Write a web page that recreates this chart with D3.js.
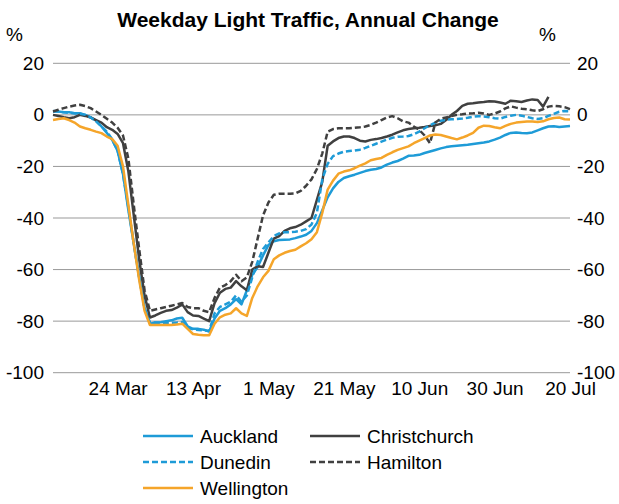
<!DOCTYPE html>
<html>
<head>
<meta charset="utf-8">
<script src="https://cdn.jsdelivr.net/npm/d3@7"></script>
<style>
  body { margin: 0; background: #fff; }
  text { font-family: Arial, "Liberation Sans", sans-serif; fill: #000; }
</style>
</head>
<body>
<div id="chart"></div>
<script>
// Weekdays, 6 Mar to 20 Jul 2020
var dates = d3.timeDay.range(new Date(2020, 2, 6), new Date(2020, 6, 21))
  .filter(function(d) { return d.getDay() != 0 && d.getDay() != 6; });

var tickDates = [new Date(2020, 2, 24), new Date(2020, 3, 13), new Date(2020, 4, 1),
  new Date(2020, 4, 21), new Date(2020, 5, 10), new Date(2020, 5, 30), new Date(2020, 6, 20)];
var yTicks = [20, 0, -20, -40, -60, -80, -100];

// % change on a year earlier, one value per weekday
var auckland = [1.3, 1.3, 1, 1, 0.6, 0.6, 0, -1, -2.3, -4.5, -7, -9.7, -14, -23, -37, -50, -63, -75, -81,
  -80.5, -80.4, -80, -79.7, -79, -78.7, -82, -83, -83, -83.3, -84,
  -79, -76, -75, -73.5, -71.5, -73.5, -68, -62, -59, -54.5, -50.5, -49, -48.5, -48.4, -48.3, -47.8, -47.2, -46.5, -45, -42,
  -37, -32, -28.5, -26, -24.5, -23.8, -23.2, -22.5, -21.8, -21.3, -21, -20.4, -19.3, -18.5, -17.9, -17, -15.9,
  -15.8, -15.5, -14.8, -14.2, -13.6, -13, -12.5, -12.2, -12, -11.8, -11.6, -11.3, -11, -10.7, -10.3, -9.6, -8.8, -7.8,
  -7, -6.8, -7, -7.1, -6.8, -6, -5.2, -4.5, -4.4, -4.7, -4.5, -4.3];

var christchurch = [0, -0.4, -0.9, -1.3, -0.9, 0, -0.4, -1, -2, -3, -4.8, -5.8, -7.4, -11, -22, -39, -56, -70, -78.6,
  -77.8, -76.8, -76, -75.7, -74.8, -73.5, -76.5, -77.8, -78, -79, -80,
  -73, -69, -67.5, -67, -64.5, -66.5, -68, -60, -58.7, -59, -53.5, -48, -47, -45, -44, -43.5, -42.6, -41.3, -40, -33,
  -26, -12, -10.3, -9, -8.4, -8.4, -9, -10, -10.3, -9.7, -9.4, -9, -8.4, -7.7, -6.8, -6, -5.5,
  -5.2, -5, -4.7, -4.3, -4, -3.5, -2, 0, 1.5, 3.5, 4.3, 4.5, 4.8, 5, 5.3, 5.2, 4.8, 4.3,
  5.5, 5.3, 5, 5.6, 6, 5.8, 3.2, 7];

var dunedin = [1.5, 1.3, 1, 0.8, 0.6, 0.4, 0, -1, -2.5, -4.5, -6.5, -9.5, -14, -23, -36, -50, -63, -75, -80.5,
  -80.6, -80.6, -80.6, -80.6, -80.5, -80.3, -82.6, -83.2, -83.4, -83.6, -83.8,
  -77, -74.5, -73.5, -72.5, -70, -72.5, -70, -63, -57, -52, -49.5, -47, -46, -45.5, -45.5, -45.3, -45, -44.3, -42.5, -38,
  -25, -19, -16, -15, -14.3, -14, -13.8, -13.5, -12.8, -12, -11.2, -10.4, -9.6, -8.9, -8.5, -8.4, -8.2,
  -7.5, -6.5, -5.2, -4, -3, -2.3, -1.9, -1.7, -1.6, -1.4, -1.1, -0.7, -0.5, -0.6, -0.9, -1.3, -1.5, -0.8,
  -0.3, 0, -0.3, -0.8, -1.3, -1.6, -1.3, -0.4, 0.4, 1.2, 1.5, 1.4];

var hamilton = [1.3, 2, 2.6, 3.2, 3.6, 3.9, 3.4, 2.6, 1.3, 0, -1.5, -3, -5, -8, -17, -35, -52, -68, -76,
  -75.5, -75, -74.5, -74, -73.5, -73, -74.5, -75, -75, -76, -76.5,
  -71, -67, -66, -64.5, -62, -64.5, -63, -57, -48, -39, -34, -31, -30.6, -30.6, -30.6, -30.5, -29.5, -27.5, -25, -21,
  -15, -6.5, -5.5, -5.2, -5.2, -5.2, -5, -4.8, -4.5, -3.9, -3, -2, -1, -0.5, -1.3, -2.5, -3,
  -4.5, -5.8, -8, -11, -3, -1.5, -1, -0.5, 0, 0.2, 0.5, 0.6, 0.8, 0.5, 0, 0.5, 1.3, 2.5,
  3.3, 2.8, 2.4, 2.2, 1.8, 1.5, 2.2, 3.2, 3.5, 3.3, 3, 2.2];

var wellington = [-2, -1.6, -1.3, -2, -3, -4.5, -5.2, -5.8, -6.5, -7.1, -8.4, -9.4, -12, -20, -35, -50, -64, -76, -81.5,
  -81.5, -81.5, -81.5, -81.5, -81.3, -81, -83, -85, -85.3, -85.5, -85.5,
  -81, -78.5, -77.5, -77, -75, -77, -78, -71, -66.5, -63, -60.5, -56, -54.5, -53.5, -52.8, -52.3, -51, -49.8, -48.2, -45.5,
  -38, -29, -25.5, -22.8, -22, -21.5, -20.7, -19.7, -18.8, -17.6, -17.1, -16.7, -15.5, -14.5, -13.6, -12.9, -12.2,
  -11, -10, -9, -8, -7.6, -7.8, -8.4, -9, -9.5, -8.8, -8, -7, -5, -4.2, -4.3, -4.8, -5.2, -4.3,
  -3.5, -3, -2.8, -2.6, -2.6, -2.8, -2.5, -1.7, -1.2, -1, -1.7, -1.8];

var series = [
  { name: "Auckland", values: auckland, color: "#1e9bd7", dash: null },
  { name: "Christchurch", values: christchurch, color: "#404040", dash: null },
  { name: "Dunedin", values: dunedin, color: "#1e9bd7", dash: "6,3" },
  { name: "Hamilton", values: hamilton, color: "#404040", dash: "6,3" },
  { name: "Wellington", values: wellington, color: "#f5a52a", dash: null }
];

var width = 619;
var height = 504;
var plotLeft = 53, plotRight = 570, plotTop = 63.3, plotBottom = 372.7;

var svg = d3.select("#chart").append("svg")
  .attr("width", width)
  .attr("height", height);

var x = d3.scalePoint()
  .domain(dates)
  .range([plotLeft, plotRight]);

var y = d3.scaleLinear()
  .domain([-100, 20])
  .range([plotBottom, plotTop]);

// plain hyphen for negatives, like the original
var fmt = function(d) { return String(d); };

// gridlines
svg.append("g")
  .selectAll("line")
  .data(yTicks)
  .enter().append("line")
  .attr("x1", plotLeft).attr("x2", plotRight)
  .attr("y1", function(d) { return y(d); })
  .attr("y2", function(d) { return y(d); })
  .attr("stroke", "#999")
  .attr("stroke-width", 1);

var leftAxis = svg.append("g")
  .attr("transform", "translate(" + plotLeft + ",0)")
  .call(d3.axisLeft(y).tickValues(yTicks).tickFormat(fmt).tickSize(0).tickPadding(9));
var rightAxis = svg.append("g")
  .attr("transform", "translate(" + plotRight + ",0)")
  .call(d3.axisRight(y).tickValues(yTicks).tickFormat(fmt).tickSize(0).tickPadding(7));
var bottomAxis = svg.append("g")
  .attr("transform", "translate(0," + plotBottom + ")")
  .call(d3.axisBottom(x).tickValues(tickDates).tickSize(0).tickPadding(9)
    .tickFormat(d3.timeFormat("%-d %b")));

[leftAxis, rightAxis, bottomAxis].forEach(function(a) {
  a.select(".domain").remove();
  a.selectAll("text").style("font-size", "19px").style("font-family", "Arial, 'Liberation Sans', sans-serif");
});

// lines
var line = d3.line()
  .defined(function(d) { return d != null; })
  .x(function(d, i) { return x(dates[i]); })
  .y(function(d) { return y(d); });

svg.append("g")
  .selectAll("path")
  .data(series)
  .enter().append("path")
  .attr("d", function(s) { return line(s.values); })
  .attr("fill", "none")
  .attr("stroke", function(s) { return s.color; })
  .attr("stroke-width", 2.5)
  .attr("stroke-dasharray", function(s) { return s.dash; })
  .attr("stroke-linejoin", "round");

// title and unit labels
svg.append("text")
  .attr("x", 308).attr("y", 27)
  .attr("text-anchor", "middle")
  .style("font-size", "21px")
  .style("font-weight", "bold")
  .text("Weekday Light Traffic, Annual Change");

svg.append("text")
  .attr("x", 6).attr("y", 41)
  .style("font-size", "19px")
  .text("%");

svg.append("text")
  .attr("x", 539).attr("y", 41)
  .style("font-size", "19px")
  .text("%");

// legend
var legendPos = [[143, 436], [310, 436], [143, 462], [310, 462], [143, 488]];

var legend = svg.append("g")
  .selectAll("g")
  .data(series)
  .enter().append("g")
  .attr("transform", function(s, i) { return "translate(" + legendPos[i][0] + "," + legendPos[i][1] + ")"; });

legend.append("line")
  .attr("x1", 0).attr("x2", 50)
  .attr("y1", 0).attr("y2", 0)
  .attr("stroke", function(s) { return s.color; })
  .attr("stroke-width", 2.5)
  .attr("stroke-dasharray", function(s) { return s.dash; });

legend.append("text")
  .attr("x", 57).attr("y", 7)
  .style("font-size", "19px")
  .text(function(s) { return s.name; });
</script>
</body>
</html>
